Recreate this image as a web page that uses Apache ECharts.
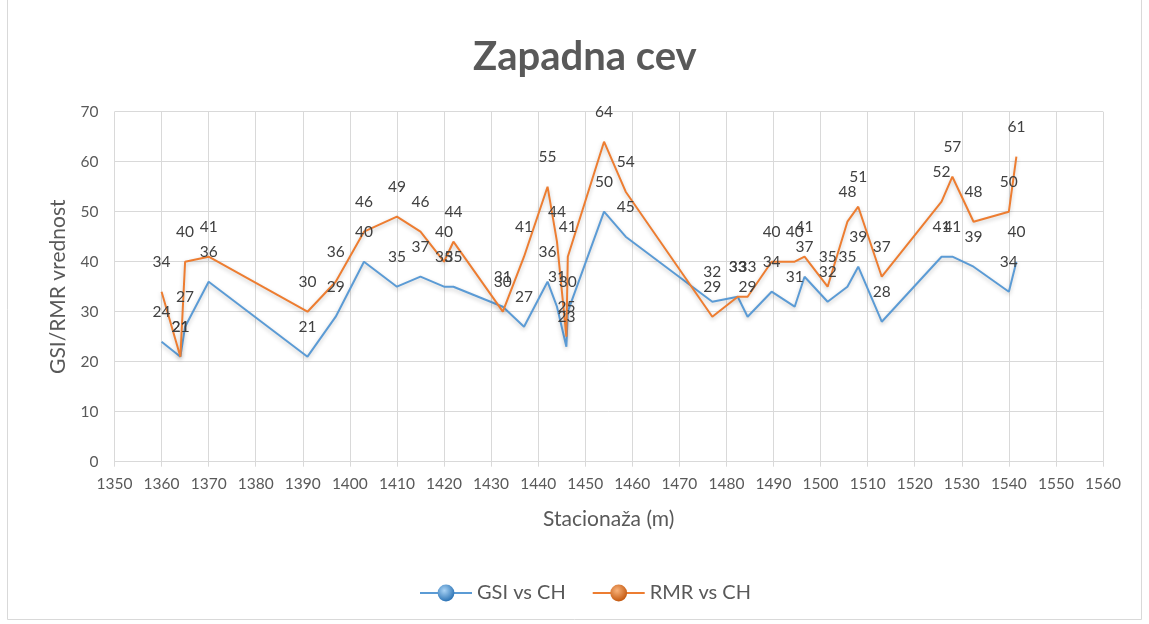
<!DOCTYPE html>
<html>
<head>
<meta charset="utf-8">
<script src="https://cdn.jsdelivr.net/npm/echarts@6/dist/echarts.min.js"></script>
<style>
  html, body { margin: 0; padding: 0; background: #ffffff; }
  #chart { width: 1149px; height: 624px; }
</style>
</head>
<body>
<div id="chart"></div>
<script>
// Stationing along the western tube (m)
const stations = [1360, 1364, 1365, 1370, 1391, 1397, 1403, 1410, 1415, 1420, 1422,
  1432.5, 1437, 1442, 1444, 1446, 1446.3, 1454, 1458.6, 1477, 1482.4, 1484.5,
  1489.6, 1494.5, 1496.6, 1501.5, 1505.7, 1508, 1513, 1525.7, 1528, 1532.5, 1540, 1541.6];

// Rock mass ratings at each station
const gsiValues = [24, 21, 27, 36, 21, 29, 40, 35, 37, 35, 35,
  31, 27, 36, 31, 23, 30, 50, 45, 32, 33, 29,
  34, 31, 37, 32, 35, 39, 28, 41, 41, 39, 34, 40];
const rmrValues = [34, 21, 40, 41, 30, 36, 46, 49, 46, 40, 44,
  30, 41, 55, 44, 25, 41, 64, 54, 29, 33, 33,
  40, 40, 41, 35, 48, 51, 37, 52, 57, 48, 50, 61];

const seriesNames = ['GSI vs CH', 'RMR vs CH'];
const titleText = 'Zapadna cev';
const xAxisTitle = 'Stacionaža (m)';
const yAxisTitle = 'GSI/RMR vrednost';

const FONT = 'Lato, "Open Sans", sans-serif';
const TEXT = '#595959';
const GRID = '#d9d9d9';
const BLUE = '#5b9bd5';
const ORANGE = '#ed7d31';

function pairs(xs, ys) {
  return xs.map((x, i) => [x, ys[i]]);
}

function sphere(light, dark) {
  return {
    type: 'radial', x: 0.4, y: 0.35, r: 0.65,
    colorStops: [{ offset: 0, color: light }, { offset: 1, color: dark }]
  };
}

function lineSeries(name, values, color) {
  return {
    name: name,
    type: 'line',
    data: pairs(stations, values),
    symbol: 'circle',
    symbolSize: 1,
    itemStyle: { color: 'transparent', borderWidth: 0 },
    lineStyle: {
      color: color, width: 2,
      shadowColor: 'rgba(0,0,0,0.22)', shadowBlur: 4, shadowOffsetY: 2
    },
    label: {
      show: true,
      position: 'top',
      distance: 21,
      color: '#404040',
      fontFamily: FONT,
      fontSize: 15.5,
      formatter: p => String(p.value[1])
    },
    emphasis: { disabled: true },
    z: 2
  };
}

const chart = echarts.init(document.getElementById('chart'), null, { renderer: 'canvas' });

chart.setOption({
  animation: false,
  backgroundColor: '#ffffff',
  title: {
    text: titleText,
    left: 468,
    top: 32,
    textStyle: { fontFamily: FONT, fontSize: 40, fontWeight: 'bold', color: TEXT }
  },
  grid: { left: 114.5, right: 46, top: 111.7, bottom: 162.3, containLabel: false },
  xAxis: {
    type: 'value',
    min: 1350, max: 1560, interval: 10,
    name: xAxisTitle,
    nameLocation: 'middle',
    nameGap: 47,
    nameTextStyle: { fontFamily: FONT, fontSize: 21, color: TEXT },
    axisLine: { show: true, lineStyle: { color: GRID, width: 1 } },
    axisTick: { show: true, length: 5, lineStyle: { color: GRID } },
    axisLabel: { fontFamily: FONT, fontSize: 15.5, color: TEXT, margin: 14, formatter: v => String(v) },
    splitLine: { show: true, lineStyle: { color: GRID, width: 1 } }
  },
  yAxis: {
    type: 'value',
    min: 0, max: 70, interval: 10,
    name: yAxisTitle,
    nameLocation: 'middle',
    nameGap: 46,
    nameTextStyle: { fontFamily: FONT, fontSize: 21, color: TEXT },
    axisLine: { show: false },
    axisTick: { show: false },
    axisLabel: { fontFamily: FONT, fontSize: 15.5, color: TEXT, margin: 16 },
    splitLine: { show: true, lineStyle: { color: GRID, width: 1 } }
  },
  legend: {
    left: 414,
    top: 578,
    itemWidth: 52,
    itemHeight: 21,
    itemGap: 26,
    textStyle: { fontFamily: FONT, fontSize: 20, color: TEXT },
    data: [
      { name: seriesNames[0], itemStyle: { color: sphere('#a9d3f5', '#2e75b6') }, lineStyle: { color: BLUE, width: 2 } },
      { name: seriesNames[1], itemStyle: { color: sphere('#f8b27a', '#c55a11') }, lineStyle: { color: ORANGE, width: 2 } }
    ]
  },
  graphic: [{
    type: 'rect',
    shape: { x: 7.5, y: -1, width: 1134, height: 620.5 },
    style: { fill: 'none', stroke: GRID, lineWidth: 1 },
    silent: true
  }],
  series: [
    lineSeries(seriesNames[0], gsiValues, BLUE),
    lineSeries(seriesNames[1], rmrValues, ORANGE)
  ]
});
</script>
</body>
</html>
